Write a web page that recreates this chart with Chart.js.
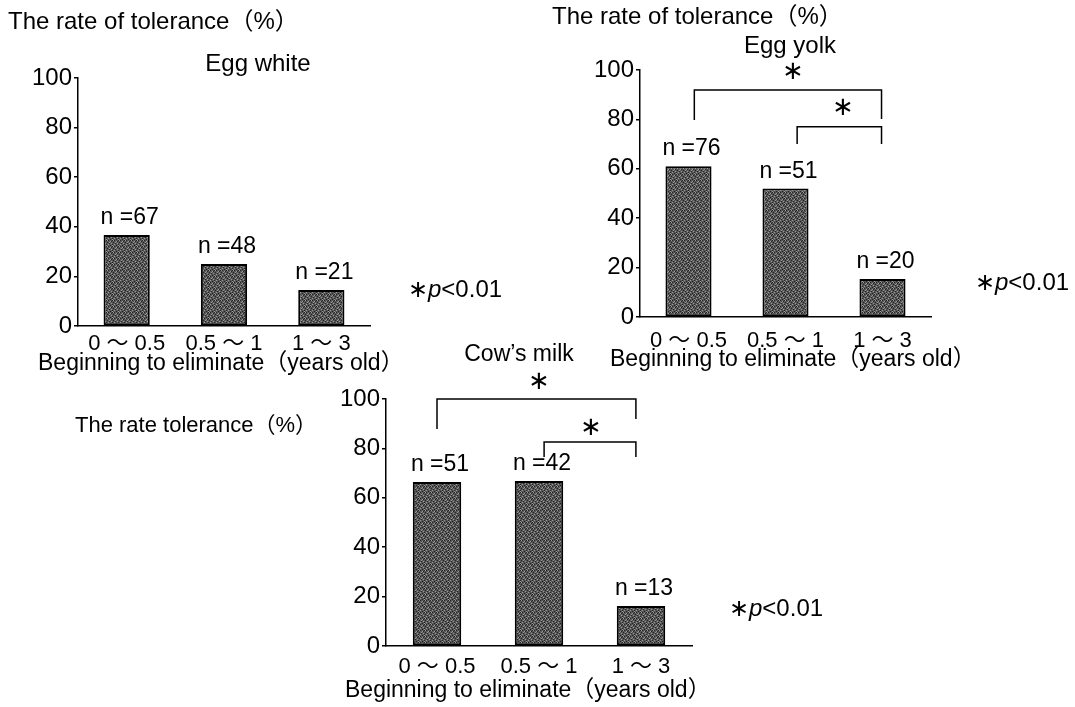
<!DOCTYPE html>
<html>
<head>
<meta charset="utf-8">
<script src="https://cdn.jsdelivr.net/npm/chart.js@4.4.0/dist/chart.umd.min.js"></script>
<style>
  html, body { margin: 0; padding: 0; background: #fff; }
  #page { position: relative; width: 1075px; height: 707px; overflow: hidden; }
  #page canvas { position: absolute; left: 0; top: 0; }
</style>
</head>
<body>
<div id="page">
  <canvas id="eggWhite" width="1075" height="707"></canvas>
  <canvas id="eggYolk" width="1075" height="707"></canvas>
  <canvas id="cowMilk" width="1075" height="707"></canvas>
</div>
<script>
// ---- data ----
const ageGroups = ['0 ～ 0.5', '0.5 ～ 1', '1 ～ 3'];
const yTicks = [0, 20, 40, 60, 80, 100];

const eggWhiteRates = [36.7, 25, 14.5];
const eggWhiteN = [67, 48, 21];

const eggYolkRates = [61, 52, 15.4];
const eggYolkN = [76, 51, 20];
// significance brackets: category index from/to, top value, end values
const eggYolkBrackets = [
  { from: 0.06, to: 1.99, top: 91.9, leftEnd: 79.8, rightEnd: 80.2 },
  { from: 1.12, to: 1.99, top: 77, leftEnd: 70, rightEnd: 70 }
];
const eggYolkStars = [{ x: 1.08, y: 99.2 }, { x: 1.59, y: 84.6 }];

const milkRates = [66.4, 66.8, 16.2];
const milkN = [51, 42, 13];
const milkBrackets = [
  { from: 0, to: 1.95, top: 100, leftEnd: 87.9, rightEnd: 91.9 },
  { from: 1.05, to: 1.95, top: 82.6, leftEnd: 76.5, rightEnd: 76.5 }
];
const milkStars = [{ x: 1.0, y: 106.9 }, { x: 1.51, y: 88.3 }];

// ---- layout / style ----
const FONT = '"Liberation Sans", Arial, "Noto Sans CJK JP", sans-serif';
const PAGE_W = 1075, PAGE_H = 707;
const Y_W = 60, X_H = 50;

// scanned-looking dotted grey fill for the bars
function stipple() {
  const c = document.createElement('canvas');
  c.width = 6; c.height = 6;
  const g = c.getContext('2d');
  g.fillStyle = '#575757';
  g.fillRect(0, 0, 6, 6);
  g.fillStyle = '#222';
  [[0,0],[3,1],[1,3],[4,4],[5,2],[2,5],[4,0]].forEach(([x, y]) => g.fillRect(x, y, 1, 1));
  g.fillStyle = '#9a9a9a';
  [[2,1],[5,0],[0,4],[3,3],[4,5],[1,2]].forEach(([x, y]) => g.fillRect(x, y, 1, 1));
  return g.createPattern(c, 'repeat');
}
const barFill = stipple();

function text(ctx, str, x, y, align, size) {
  ctx.font = size + 'px ' + FONT;
  ctx.textAlign = align;
  ctx.textBaseline = 'middle';
  ctx.fillStyle = '#000';
  ctx.fillText(str, x, y);
}

function pValue(ctx, x, y) {
  ctx.textBaseline = 'middle';
  ctx.textAlign = 'left';
  ctx.fillStyle = '#000';
  ctx.font = '24px ' + FONT;
  ctx.fillText('∗', x, y);
  x += ctx.measureText('∗').width;
  ctx.font = 'italic 24px ' + FONT;
  ctx.fillText('p', x, y);
  x += ctx.measureText('p').width;
  ctx.font = '24px ' + FONT;
  ctx.fillText('<0.01', x, y);
}

function annotate(counts, brackets, stars, labels) {
  return {
    id: 'annotate',
    afterDraw(chart) {
      const ctx = chart.ctx;
      const xs = chart.scales.x, ys = chart.scales.y;
      ctx.save();
      // n = labels above bars
      chart.getDatasetMeta(0).data.forEach((bar, i) => {
        ctx.font = '23px ' + FONT;
        ctx.textAlign = 'center';
        ctx.textBaseline = 'alphabetic';
        ctx.fillStyle = '#000';
        ctx.fillText('n =' + counts[i], bar.x + 3, bar.y - 11);
      });
      // brackets
      ctx.strokeStyle = '#000';
      ctx.lineWidth = 1.5;
      brackets.forEach(b => {
        const x1 = xs.getPixelForValue(b.from), x2 = xs.getPixelForValue(b.to);
        ctx.beginPath();
        ctx.moveTo(x1, ys.getPixelForValue(b.leftEnd));
        ctx.lineTo(x1, ys.getPixelForValue(b.top));
        ctx.lineTo(x2, ys.getPixelForValue(b.top));
        ctx.lineTo(x2, ys.getPixelForValue(b.rightEnd));
        ctx.stroke();
      });
      stars.forEach(s => text(ctx, '∗', xs.getPixelForValue(s.x), ys.getPixelForValue(s.y), 'center', 26));
      labels.forEach(l => {
        if (l.p) pValue(ctx, l.x, l.y);
        else text(ctx, l.t, l.x, l.y, l.align, l.size);
      });
      ctx.restore();
    }
  };
}

function buildChart(id, area, rates, counts, brackets, stars, labels) {
  return new Chart(document.getElementById(id), {
    type: 'bar',
    data: {
      labels: ageGroups,
      datasets: [{
        data: rates,
        backgroundColor: barFill,
        borderColor: '#000',
        borderWidth: 2,
        borderSkipped: false,
        categoryPercentage: 0.5,
        barPercentage: 0.95
      }]
    },
    options: {
      responsive: false,
      animation: false,
      layout: {
        padding: {
          left: area.left - Y_W,
          right: PAGE_W - area.right,
          top: area.top,
          bottom: PAGE_H - area.bottom - X_H
        }
      },
      plugins: { legend: { display: false }, tooltip: { enabled: false } },
      scales: {
        x: {
          grid: { display: false, drawTicks: false },
          border: { display: true, color: '#000', width: 1.5 },
          ticks: { color: '#000', font: { family: FONT, size: 22 }, padding: area.catPad, maxRotation: 0 },
          afterFit: s => { s.height = X_H; }
        },
        y: {
          min: 0,
          max: 100,
          afterBuildTicks: s => { s.ticks = yTicks.map(v => ({ value: v })); },
          ticks: { color: '#000', font: { family: FONT, size: 24 }, padding: 2 },
          grid: { drawOnChartArea: false, drawTicks: true, tickLength: 4, color: '#000', lineWidth: 1.5 },
          border: { display: true, color: '#000', width: 1.5 },
          afterFit: s => { s.width = Y_W; }
        }
      }
    },
    plugins: [annotate(counts, brackets, stars, labels)]
  });
}

buildChart('eggWhite', { left: 78, right: 370, top: 78, bottom: 326, catPad: 5 },
  eggWhiteRates, eggWhiteN, [], [], [
    { t: 'The rate of tolerance（%）', x: 8, y: 22, align: 'left', size: 24 },
    { t: 'Egg white', x: 258, y: 64, align: 'center', size: 24 },
    { t: 'Beginning to eliminate（years old）', x: 38, y: 364, align: 'left', size: 23 },
    { p: true, x: 408, y: 290 }
  ]);

buildChart('eggYolk', { left: 640, right: 931, top: 70, bottom: 317, catPad: 11 },
  eggYolkRates, eggYolkN, eggYolkBrackets, eggYolkStars, [
    { t: 'The rate of tolerance（%）', x: 552, y: 17, align: 'left', size: 24 },
    { t: 'Egg yolk', x: 790, y: 46, align: 'center', size: 24 },
    { t: 'Beginning to eliminate（years old）', x: 610, y: 360, align: 'left', size: 23 },
    { p: true, x: 975, y: 283 }
  ]);

buildChart('cowMilk', { left: 386, right: 692, top: 399, bottom: 646, catPad: 8 },
  milkRates, milkN, milkBrackets, milkStars, [
    { t: 'Cow’s milk', x: 519, y: 355, align: 'center', size: 23 },
    { t: 'The rate tolerance（%）', x: 75, y: 426, align: 'left', size: 22 },
    { t: 'Beginning to eliminate（years old）', x: 345, y: 691, align: 'left', size: 23 },
    { p: true, x: 729, y: 609 }
  ]);
</script>
</body>
</html>
